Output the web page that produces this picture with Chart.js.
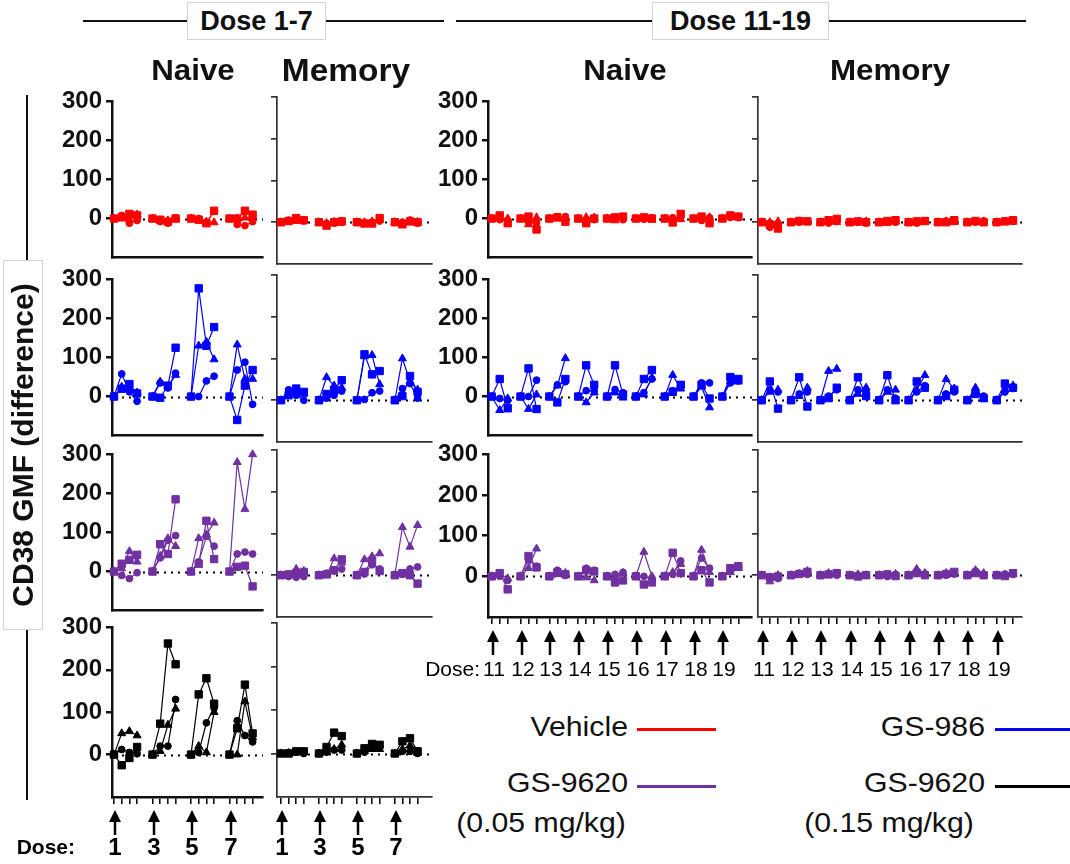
<!DOCTYPE html>
<html>
<head>
<meta charset="utf-8">
<script src="https://cdn.jsdelivr.net/npm/chart.js@4.4.0/dist/chart.umd.min.js"></script>
<style>
  body { margin: 0; background: #fff; }
  #fig { position: relative; width: 1070px; height: 864px; overflow: hidden; font-family: 'Liberation Sans', Arial, sans-serif; color: #111; }
  #fig canvas { position: absolute; }
  .txt { position: absolute; white-space: nowrap; line-height: 1; }
  .rule { position: absolute; background: #111; }
  .box { position: absolute; background: #fff; border: 1px solid #d4d4d4; box-sizing: border-box; display: flex; align-items: center; justify-content: center; font-weight: bold; }
</style>
</head>
<body>
<div id="fig"></div>
<script>
// dose numbers under the arrows, time points inside each dosing block
const LEFT_DOSES = [1, 3, 5, 7];
const RIGHT_DOSES = [11, 12, 13, 14, 15, 16, 17, 18, 19];
const LEFT_TIMES = [0, 1, 2, 3];
const RIGHT_TIMES = [0, 1, 2];
const Y_TICKS = [0, 100, 200, 300];

// every panel: [square animal, circle animal, triangle animal], one row per dose block
const vehicleNaiveEarly = [
  [[0, 3, 12, 8], [0, -3, -8, 0], [0, -3, -12, 20], [0, 0, 20, 10]],
  [[0, 8, -12, -5], [0, -8, -12, 2], [0, 0, -10, 18], [0, -15, -18, -8]],
  [[0, 5, -3, 10], [0, -5, -5, -2], [0, -2, -8, -10], [0, 0, 2, 5]]
];
const vehicleMemoryEarly = [
  [[0, 3, 10, 5], [0, -8, 0, 2], [0, -3, -3, 10], [0, -5, 2, 0]],
  [[0, 5, 5, 3], [0, -3, -2, 0], [0, -2, 0, 3], [0, 0, 5, -2]],
  [[0, 2, 3, 4], [0, -2, 1, 2], [0, 0, 2, 5], [0, -2, 3, 1]]
];
const gs986NaiveEarly = [
  [[0, 20, 32, 8], [0, -3, 28, 125], [0, 277, 130, 178], [0, -60, 28, 68]],
  [[0, 58, 12, -12], [0, 35, 22, 60], [0, 0, 40, 52], [0, 68, 88, -20]],
  [[0, 25, 20, 10], [0, 38, 25, 55], [0, 130, 140, 95], [0, 133, 45, 45]]
];
const gs986MemoryEarly = [
  [[0, 12, 28, 20], [0, 15, 25, 48], [0, 110, 62, 70], [0, 10, 58, 20]],
  [[0, 25, 12, 0], [0, 5, 12, 22], [0, 2, 18, 22], [0, 28, 40, 5]],
  [[0, 18, 22, 15], [0, 55, 35, 30], [0, 105, 108, 38], [0, 100, 45, 25]]
];
const lowNaiveEarly = [
  [[0, 20, 30, 43], [0, 70, 45, 185], [0, 20, 130, 32], [0, 12, 15, -38]],
  [[0, -10, -18, -3], [0, 35, 80, 92], [0, 25, 90, 65], [0, 45, 50, 45]],
  [[0, 8, 52, 25], [0, 40, 85, 65], [0, 85, 95, 125], [0, 280, 160, 300]]
];
const lowMemoryEarly = [
  [[0, 2, 5, 8], [0, 2, 12, 38], [0, 8, 35, 10], [0, 5, 0, -20]],
  [[0, -3, -5, -3], [0, 5, 10, 15], [0, 3, 25, 15], [0, 2, 15, 20]],
  [[0, 0, 15, 10], [0, 0, 40, 30], [0, 38, 45, 52], [0, 115, 68, 120]]
];
const highNaiveEarly = [
  [[0, -25, -8, 18], [0, 73, 262, 213], [0, 142, 180, 120], [0, 62, 165, 50]],
  [[0, 12, 5, 2], [0, 20, 20, 130], [0, 5, 75, 110], [0, 80, 45, 30]],
  [[0, 50, 55, 45], [0, 8, 70, 108], [0, 20, 5, 100], [0, 0, 125, 40]]
];
const highMemoryEarly = [
  [[0, 0, 5, 5], [0, 15, 48, 40], [0, 12, 22, 20], [0, 28, 35, 5]],
  [[0, 2, 3, 0], [0, 3, 8, 8], [0, 3, 12, 15], [0, 5, 5, 0]],
  [[0, 1, 2, 3], [0, 5, 10, 20], [0, 5, 10, 10], [0, 10, 18, 3]]
];

const vehicleNaiveLate = [
  [[0, 8, -12], [0, 5, -28], [0, 3, -8], [0, -12, 0], [0, 3, 5], [0, 3, 0], [0, -10, 12], [0, 5, -12], [0, 8, 5]],
  [[0, -3, -5], [0, -8, -10], [0, 5, 5], [0, -5, -3], [0, 0, -3], [0, -2, 2], [0, 2, 3], [0, -5, 2], [0, 3, 2]],
  [[0, 2, 0], [0, -15, 3], [0, 0, 2], [0, 3, 2], [0, -5, 2], [0, 0, -3], [0, 0, -2], [0, 0, 3], [0, 5, 3]]
];
const vehicleMemoryLate = [
  [[0, -5, -15], [0, 3, 2], [0, 5, 8], [0, 2, 0], [0, 3, 5], [0, 2, 3], [0, 0, 5], [0, 3, 0], [0, 2, 5]],
  [[0, -12, -3], [0, 0, 3], [0, -2, 2], [0, 0, -2], [0, 2, 0], [0, -2, 3], [0, 3, 2], [0, 0, 3], [0, 3, 2]],
  [[0, 0, 2], [0, 2, 0], [0, 3, 0], [0, 1, 2], [0, -2, 1], [0, 1, 0], [0, 2, 0], [0, 1, 2], [0, 0, 1]]
];
const gs986NaiveLate = [
  [[0, 45, -30], [0, 72, -32], [0, -15, 45], [0, 80, 30], [0, 80, 5], [0, 45, 68], [0, 12, 30], [0, 30, -5], [0, 50, 45]],
  [[0, -5, -10], [0, 0, 42], [0, 30, 38], [0, 15, 15], [0, 18, 10], [0, 10, 45], [0, 15, 28], [0, 35, 35], [0, 35, 40]],
  [[0, -35, -5], [0, -32, 5], [0, 28, 98], [0, -15, 10], [0, 10, -3], [0, 5, 48], [0, 55, 20], [0, 25, -28], [0, 38, 38]]
];
const gs986MemoryLate = [
  [[0, 45, -20], [0, 55, -15], [0, 5, 30], [0, 55, 10], [0, 60, 0], [0, 45, 30], [0, 10, 25], [0, 15, 5], [0, 40, 30]],
  [[0, 25, 20], [0, 15, 20], [0, 10, 25], [0, 25, 20], [0, 25, 5], [0, 20, 35], [0, 15, 20], [0, 20, 10], [0, 20, 28]],
  [[0, 20, 25], [0, 10, 30], [0, 70, 75], [0, 15, 30], [0, 20, 25], [0, 25, 60], [0, 50, 28], [0, 30, 3], [0, 25, 35]]
];
const lowNaiveLate = [
  [[0, 8, -32], [0, 50, 22], [0, 10, 5], [0, 15, 12], [0, -15, -10], [0, -20, -15], [0, 58, 8], [0, 15, -15], [0, 20, 25]],
  [[0, 0, -10], [0, 40, 25], [0, 15, 2], [0, 20, 15], [0, 5, 10], [0, 0, -5], [0, 5, 38], [0, 45, 20], [0, 15, 22]],
  [[0, 5, -5], [0, 20, 68], [0, 5, 8], [0, -3, -10], [0, -5, 8], [0, 60, 0], [0, 10, 30], [0, 65, 10], [0, 10, 20]]
];
const lowMemoryLate = [
  [[0, -5, -3], [0, 3, 8], [0, 2, 5], [0, -3, 0], [0, 2, -2], [0, 5, 0], [0, 3, 8], [0, 5, 0], [0, -2, 5]],
  [[0, -3, -8], [0, 5, 2], [0, 3, 0], [0, 0, 2], [0, -3, 2], [0, 10, 3], [0, 0, 3], [0, 10, 2], [0, 3, 2]],
  [[0, -15, 0], [0, 2, 10], [0, 5, 3], [0, 2, -2], [0, 0, 3], [0, 15, 5], [0, 5, 2], [0, 12, 5], [0, 0, 3]]
];

const RED = '#ff0000', BLUE = '#0000ff', PURPLE = '#7030a0', BLACK = '#000000';
const FONT = "'Liberation Sans', Arial, sans-serif";
Chart.defaults.font.family = FONT;

const fig = document.getElementById('fig');

// pixel boxes of the plotting areas
const ROWS = [[97, 264], [275, 442], [450, 617], [623, 797]];
const COLS = {
  ln: { px: [112, 263], x: [-0.26, 19.35], step: 5, times: LEFT_TIMES, doses: LEFT_DOSES, padL: 100, naive: true },
  lm: { px: [277, 432], x: [-0.53, 19.9], step: 5, times: LEFT_TIMES, doses: LEFT_DOSES, padL: 10, naive: false },
  rn: { px: [488, 752], x: [-0.46, 32.5], step: 3.6, times: RIGHT_TIMES, doses: RIGHT_DOSES, padL: 78, naive: true },
  rm: { px: [758, 1022], x: [-0.45, 31.9], step: 3.6, times: RIGHT_TIMES, doses: RIGHT_DOSES, padL: 10, naive: false }
};
const SHAPES = [
  { style: 'rect', radius: 5.2 },
  { style: 'circle', radius: 3.4 },
  { style: 'triangle', radius: 4.6 }
];

const zeroLine = {
  id: 'zeroLine',
  beforeDatasetsDraw(chart) {
    const { ctx, chartArea: a, scales: { y } } = chart;
    const py = Math.round(y.getPixelForValue(0)) + 0.5;
    ctx.save();
    ctx.strokeStyle = '#000';
    ctx.lineWidth = 2;
    ctx.setLineDash([2, 5]);
    ctx.beginPath();
    ctx.moveTo(a.left + 3, py);
    ctx.lineTo(a.right, py);
    ctx.stroke();
    ctx.restore();
  }
};

function addPanel(colKey, row, values, color, bottom, doseText) {
  const col = COLS[colKey];
  const [l, r] = col.px;
  const [t, b] = ROWS[row];
  const padL = col.padL, padT = 14, padR = 8, xH = 8, padB = bottom ? 66 : 4;
  const canvas = document.createElement('canvas');
  canvas.width = padL + (r - l) + padR;
  canvas.height = padT + (b - t) + xH + padB;
  canvas.style.left = (l - padL) + 'px';
  canvas.style.top = (t - padT) + 'px';
  fig.appendChild(canvas);

  const tickX = [];
  col.doses.forEach((d, g) => col.times.forEach(tp => tickX.push(g * col.step + tp)));

  const datasets = values.map((animal, i) => {
    const pts = [];
    animal.forEach((block, g) => {
      block.forEach((v, k) => pts.push({ x: g * col.step + col.times[k], y: v }));
      pts.push({ x: g * col.step + col.step - 0.5, y: null });
    });
    return {
      data: pts,
      showLine: true,
      spanGaps: false,
      borderColor: color,
      backgroundColor: color,
      borderWidth: 1.2,
      pointStyle: SHAPES[i].style,
      pointRadius: SHAPES[i].radius,
      pointBorderWidth: 1,
      clip: false
    };
  });

  const axisColor = col.naive ? '#111' : '#333';
  const axisWidth = col.naive ? 2.5 : 1.7;
  const rightSide = colKey[0] === 'r';

  const doseAxis = {
    id: 'doseAxis',
    afterDraw(chart) {
      if (!bottom) return;
      const { ctx, chartArea: a, scales: { x } } = chart;
      const labelY = a.bottom + (rightSide ? 53 : 51);
      ctx.save();
      ctx.fillStyle = '#000';
      ctx.strokeStyle = '#000';
      ctx.textAlign = 'center';
      ctx.textBaseline = 'middle';
      ctx.font = rightSide ? `21px ${FONT}` : `bold 24px ${FONT}`;
      col.doses.forEach((d, g) => {
        const px = Math.round(x.getPixelForValue(g * col.step)) + 1;
        const tip = a.bottom + 13, base = a.bottom + 38;
        ctx.lineWidth = 2.5;
        ctx.beginPath();
        ctx.moveTo(px, tip + 8);
        ctx.lineTo(px, base);
        ctx.stroke();
        ctx.beginPath();
        ctx.moveTo(px, tip);
        ctx.lineTo(px - 6, tip + 12);
        ctx.lineTo(px + 6, tip + 12);
        ctx.closePath();
        ctx.fill();
        ctx.fillText(String(d), px + (d > 9 ? 1 : 0), labelY);
      });
      if (doseText) {
        ctx.textAlign = 'right';
        ctx.font = rightSide ? `21px ${FONT}` : `bold 21px ${FONT}`;
        ctx.fillText(doseText, rightSide ? a.left - 8 : a.left - 37, labelY);
      }
      ctx.restore();
    }
  };

  new Chart(canvas, {
    type: 'scatter',
    data: { datasets },
    options: {
      responsive: false,
      animation: false,
      events: [],
      layout: { padding: { top: padT, right: padR, bottom: padB, left: 0 } },
      plugins: { legend: { display: false }, tooltip: { enabled: false } },
      scales: {
        x: {
          type: 'linear',
          min: col.x[0],
          max: col.x[1],
          afterBuildTicks: s => { s.ticks = tickX.map(v => ({ value: v })); },
          afterFit: s => { s.height = xH; },
          ticks: { display: false },
          grid: { display: bottom, drawOnChartArea: false, drawTicks: true, tickLength: 7, color: '#111', lineWidth: 1.6 },
          border: { display: true, color: axisColor, width: axisWidth }
        },
        y: {
          type: 'linear',
          min: -100,
          max: 300,
          afterBuildTicks: s => { s.ticks = Y_TICKS.map(v => ({ value: v })); },
          afterFit: s => { s.width = padL; },
          ticks: { display: col.naive, color: '#111', padding: 4, font: { size: 24, weight: 'bold' } },
          grid: { display: true, drawOnChartArea: false, drawTicks: true, tickLength: 6, color: axisColor, lineWidth: axisWidth },
          border: { display: true, color: axisColor, width: axisWidth }
        }
      }
    },
    plugins: [zeroLine, doseAxis]
  });
}

// dose 1-7
addPanel('ln', 0, vehicleNaiveEarly, RED, false);
addPanel('lm', 0, vehicleMemoryEarly, RED, false);
addPanel('ln', 1, gs986NaiveEarly, BLUE, false);
addPanel('lm', 1, gs986MemoryEarly, BLUE, false);
addPanel('ln', 2, lowNaiveEarly, PURPLE, false);
addPanel('lm', 2, lowMemoryEarly, PURPLE, false);
addPanel('ln', 3, highNaiveEarly, BLACK, true, 'Dose:');
addPanel('lm', 3, highMemoryEarly, BLACK, true);
// dose 11-19
addPanel('rn', 0, vehicleNaiveLate, RED, false);
addPanel('rm', 0, vehicleMemoryLate, RED, false);
addPanel('rn', 1, gs986NaiveLate, BLUE, false);
addPanel('rm', 1, gs986MemoryLate, BLUE, false);
addPanel('rn', 2, lowNaiveLate, PURPLE, true, 'Dose:');
addPanel('rm', 2, lowMemoryLate, PURPLE, true);

// text and rules around the panels
function rule(x, y, w, h) {
  const d = document.createElement('div');
  d.className = 'rule';
  Object.assign(d.style, { left: x + 'px', top: y + 'px', width: w + 'px', height: h + 'px' });
  fig.appendChild(d);
}
function text(str, x, y, css, anchor) {
  const d = document.createElement('div');
  d.className = 'txt';
  d.textContent = str;
  Object.assign(d.style, css);
  d.style.left = x + 'px';
  d.style.top = y + 'px';
  const tx = anchor === 'right' ? '-100%' : '-50%';
  d.style.transformOrigin = anchor === 'right' ? 'right center' : 'center center';
  d.style.transform = `translate(${tx}, -50%) scaleX(1.08)`;
  fig.appendChild(d);
}
function box(str, x, y, w, h, size) {
  const d = document.createElement('div');
  d.className = 'box';
  Object.assign(d.style, { left: x + 'px', top: y + 'px', width: w + 'px', height: h + 'px', fontSize: size + 'px' });
  d.textContent = str;
  fig.appendChild(d);
}

rule(83, 20, 104, 2);
rule(326, 20, 118, 2);
rule(456, 20, 196, 2);
rule(829, 20, 197, 2);
box('Dose 1-7', 187, 2, 139, 38, 27);
box('Dose 11-19', 652, 2, 177, 38, 27);

const heading = { fontWeight: 'bold', fontSize: '29px' };
text('Naive', 193, 70, heading);
text('Memory', 346, 70, { fontWeight: 'bold', fontSize: '31px' });
text('Naive', 625, 70, heading);
text('Memory', 890, 70, heading);

// y axis title on its rule
rule(26, 95, 2, 705);
const yt = document.createElement('div');
yt.className = 'box';
Object.assign(yt.style, { left: (23 - 185) + 'px', top: (445 - 20) + 'px', width: '370px', height: '40px', fontSize: '30px', transform: 'rotate(-90deg)' });
yt.textContent = 'CD38 GMF (difference)';
fig.appendChild(yt);

// legend
const legendFont = { fontSize: '28px' };
text('Vehicle', 628, 727, legendFont, 'right');
text('GS-986', 985, 727, legendFont, 'right');
text('GS-9620', 628, 783, legendFont, 'right');
text('(0.05 mg/kg)', 541, 823, legendFont);
text('GS-9620', 985, 783, legendFont, 'right');
text('(0.15 mg/kg)', 889, 823, legendFont);
function swatch(x, y, color) {
  const d = document.createElement('div');
  d.className = 'rule';
  Object.assign(d.style, { left: x + 'px', top: y + 'px', width: '79px', height: '3px', background: color });
  fig.appendChild(d);
}
swatch(637, 728, RED);
swatch(995, 728, BLUE);
swatch(637, 785, PURPLE);
swatch(995, 785, BLACK);
</script>
</body>
</html>
